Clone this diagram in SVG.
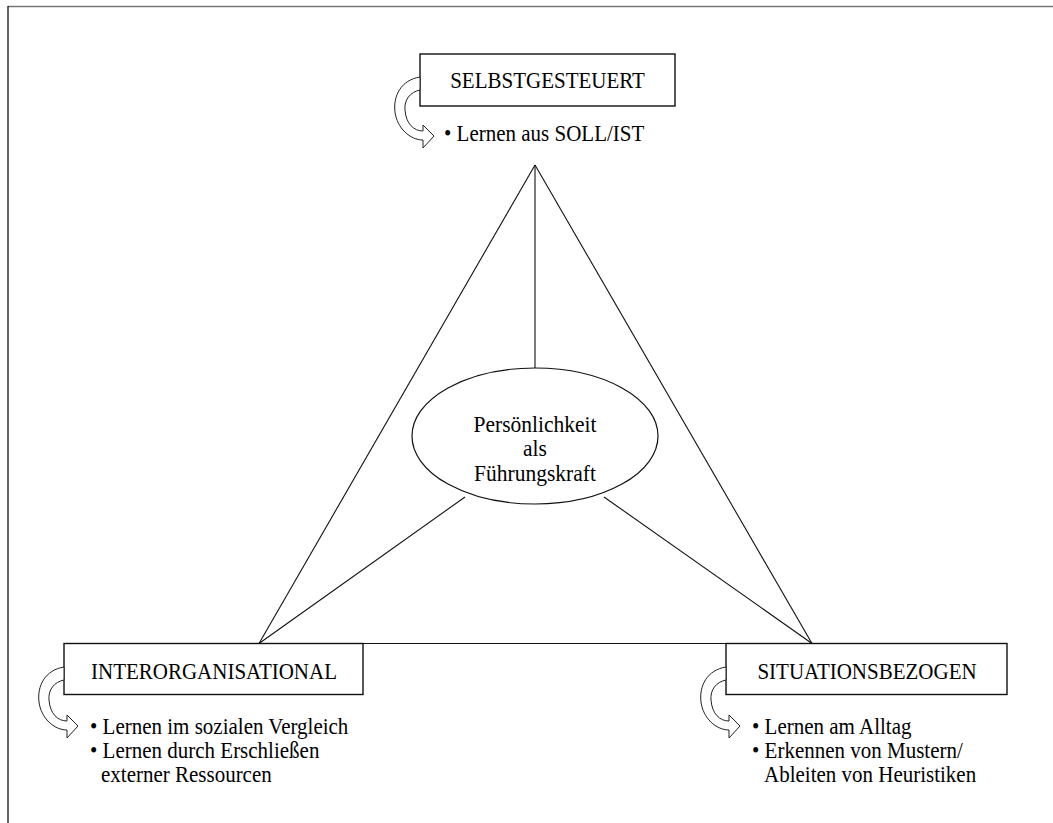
<svg xmlns="http://www.w3.org/2000/svg" width="1053" height="823" viewBox="0 0 1053 823">
<style>
.t{font-family:"Liberation Serif","Times New Roman",serif;font-size:21px;fill:#000}
.m{text-anchor:middle}
.e{font-size:21.5px}
.box{fill:#fff;stroke:#111;stroke-width:1.4}
.ln{stroke:#111;stroke-width:1.1;fill:none}
.arr{fill:#fff;stroke:#222;stroke-width:1}
</style>
<defs>
<path id="carrow" d="M420,77 C401,80 393,96 395,112 C397,128 410,140 423,140 L423,148 L434,136 L423,125 L423,131 C414,131 406,124 405,110 C404,100 410,92 420,90 Z"/>
</defs>
<rect width="1053" height="823" fill="#fff"/>
<g id="frame">
<line x1="8" y1="6.5" x2="1053" y2="6.5" stroke="#777" stroke-width="1.6"/>
<line x1="8" y1="6" x2="8" y2="823" stroke="#111" stroke-width="1.3"/>
</g>
<g id="connectors">
<line class="ln" x1="535" y1="165" x2="259" y2="643.5"/>
<line class="ln" x1="535" y1="165" x2="812" y2="643.5"/>
<line class="ln" x1="259" y1="643.5" x2="812" y2="643.5"/>
<line class="ln" x1="535" y1="165" x2="535" y2="368"/>
<line class="ln" x1="465" y1="497" x2="259" y2="643.5"/>
<line class="ln" x1="604" y1="497" x2="812" y2="643.5"/>
</g>
<g id="center">
<ellipse cx="535" cy="436" rx="123" ry="68" fill="#fff" stroke="#111" stroke-width="1.2"/>
<text class="t m e" transform="translate(535,432) scale(1,1.1)">Persönlichkeit</text>
<text class="t m e" transform="translate(535,456) scale(1,1.1)">als</text>
<text class="t m e" transform="translate(535,481) scale(1,1.1)">Führungskraft</text>
</g>
<g id="selbstgesteuert">
<rect class="box" x="420" y="54" width="255" height="52"/>
<text class="t m" transform="translate(547.5,88) scale(1,1.1)">SELBSTGESTEUERT</text>
<use href="#carrow" class="arr"/>
<text class="t" transform="translate(444,141) scale(1,1.1)">• Lernen aus SOLL/IST</text>
</g>
<g id="interorganisational">
<rect class="box" x="64" y="643.5" width="299" height="51"/>
<text class="t m" transform="translate(214,679) scale(1,1.1)">INTERORGANISATIONAL</text>
<use href="#carrow" class="arr" transform="translate(-356,590)"/>
<text class="t" transform="translate(90,734) scale(1,1.1)">• Lernen im sozialen Vergleich</text>
<text class="t" transform="translate(90,758) scale(1,1.1)">• Lernen durch Erschließen</text>
<text class="t" transform="translate(101,782) scale(1,1.1)">externer Ressourcen</text>
</g>
<g id="situationsbezogen">
<rect class="box" x="726" y="643.5" width="281" height="51"/>
<text class="t m" transform="translate(867,679) scale(1,1.1)">SITUATIONSBEZOGEN</text>
<use href="#carrow" class="arr" transform="translate(306,590)"/>
<text class="t" transform="translate(752,734) scale(1,1.1)">• Lernen am Alltag</text>
<text class="t" transform="translate(752,758) scale(1,1.1)">• Erkennen von Mustern/</text>
<text class="t" transform="translate(764,782) scale(1,1.1)">Ableiten von Heuristiken</text>
</g>
</svg>
